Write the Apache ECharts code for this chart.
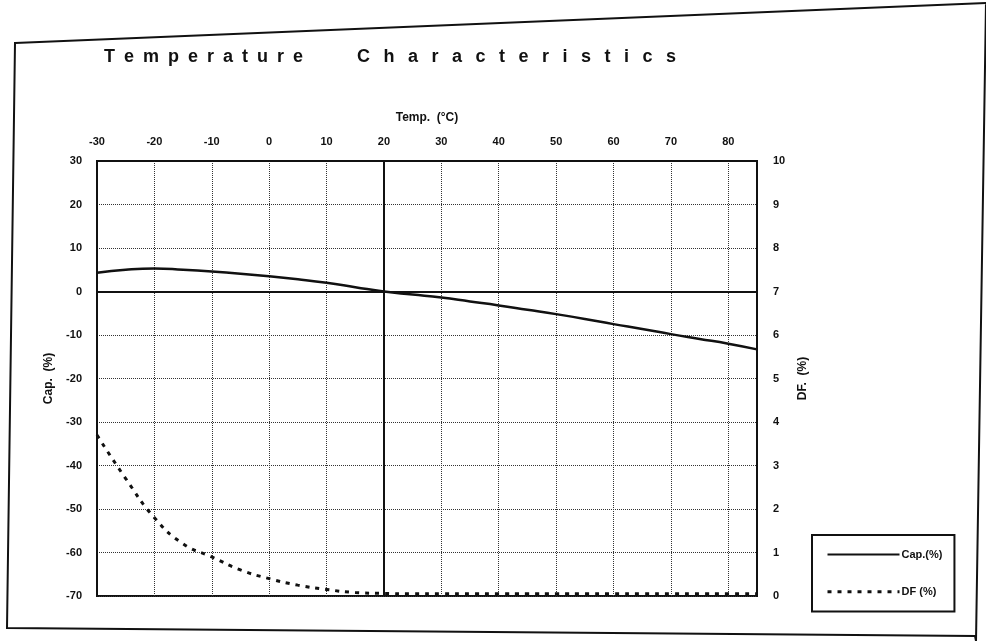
<!DOCTYPE html>
<html>
<head>
<meta charset="utf-8">
<script src="https://cdn.jsdelivr.net/npm/echarts@6/dist/echarts.min.js"></script>
<style>
html,body{margin:0;padding:0;background:#fff;}
#chart{width:986px;height:641px;}
</style>
</head>
<body>
<div id="chart"></div>
<script>
// Temperature (°C)
var temps = [-30, -25, -20, -15, -10, -5, 0, 5, 10, 15, 20, 25, 30, 35, 40, 45, 50, 55, 60, 65, 70, 75, 80, 85];
// Capacitance change (%)
var capValues = [4.3, 5.0, 5.3, 5.0, 4.6, 4.1, 3.5, 2.8, 2.0, 1.0, 0.0, -0.7, -1.4, -2.3, -3.2, -4.2, -5.2, -6.3, -7.5, -8.6, -9.8, -10.9, -12.0, -13.3];
// Dissipation factor (%)
var dfValues = [3.7, 2.7, 1.8, 1.2, 0.9, 0.6, 0.4, 0.25, 0.15, 0.08, 0.06, 0.05, 0.05, 0.05, 0.05, 0.05, 0.05, 0.05, 0.05, 0.05, 0.05, 0.05, 0.05, 0.05];
var titleText = 'Temperature Characteristics';
var xName = 'Temp.  (°C)';
var yLeftName = 'Cap.  (%)';
var yRightName = 'DF.  (%)';
var capName = 'Cap.(%)';
var dfName = 'DF (%)';

function pairs(xs, ys) { return xs.map(function (x, i) { return [x, ys[i]]; }); }
function spaced(s) {
  var words = s.split(' ');
  var a = words[0].split('').join('\u2002');
  var b = words[1].split('').join('\u2002\u2005');
  return a + '\u2003\u2003\u2003' + b;
}

var chart = echarts.init(document.getElementById('chart'), null, {renderer: 'canvas'});
var fontFam = '"Liberation Sans", Arial, sans-serif';
var gridLine = {show: true, lineStyle: {type: 'dotted', color: '#333', width: 1}};

chart.setOption({
  backgroundColor: '#fff',
  animation: false,
  title: {
    text: spaced(titleText),
    left: 99, top: 43,
    textStyle: {fontFamily: fontFam, fontWeight: 'bold', fontSize: 18, color: '#111'}
  },
  graphic: [{
    type: 'polygon',
    shape: {points: [[15, 43], [986, 3], [976, 641], [975, 636], [7, 628]]},
    style: {fill: 'none', stroke: '#111', lineWidth: 2},
    silent: true, z: -1
  }],
  legend: {
    orient: 'vertical',
    left: 812, top: 535,
    padding: [14, 12, 14, 14],
    itemGap: 26,
    itemWidth: 72, itemHeight: 14,
    borderColor: '#111', borderWidth: 2,
    backgroundColor: '#fff',
    textStyle: {fontFamily: fontFam, fontWeight: 'bold', fontSize: 11, color: '#111', padding: [0, 0, 0, -3]},
    data: [
      {name: capName, itemStyle: {opacity: 0}, lineStyle: {color: '#111', width: 2, type: 'solid'}},
      {name: dfName, itemStyle: {opacity: 0}, lineStyle: {color: '#111', width: 3, type: [4, 6]}}
    ]
  },
  grid: {left: 97, right: 229, top: 161, bottom: 45, show: true, borderColor: '#111', borderWidth: 2, backgroundColor: 'transparent'},
  xAxis: {
    type: 'value', position: 'top', min: -30, max: 85, interval: 10,
    name: xName, nameLocation: 'middle', nameGap: 37,
    nameTextStyle: {fontFamily: fontFam, fontWeight: 'bold', fontSize: 12, color: '#111'},
    axisLine: {show: true, onZero: false, lineStyle: {color: '#111', width: 2}},
    axisTick: {show: false},
    axisLabel: {showMaxLabel: false, margin: 14, fontFamily: fontFam, fontWeight: 'bold', fontSize: 11, color: '#111'},
    splitLine: gridLine
  },
  yAxis: [{
    type: 'value', position: 'left', min: -70, max: 30, interval: 10,
    name: yLeftName, nameLocation: 'middle', nameGap: 42, nameRotate: 90,
    nameTextStyle: {fontFamily: fontFam, fontWeight: 'bold', fontSize: 12, color: '#111'},
    axisLine: {show: true, onZero: false, lineStyle: {color: '#111', width: 2}},
    axisTick: {show: false},
    axisLabel: {margin: 15, fontFamily: fontFam, fontWeight: 'bold', fontSize: 11, color: '#111'},
    splitLine: gridLine
  }, {
    type: 'value', position: 'right', min: 0, max: 10, interval: 1,
    name: yRightName, nameLocation: 'middle', nameGap: 40, nameRotate: 90,
    nameTextStyle: {fontFamily: fontFam, fontWeight: 'bold', fontSize: 12, color: '#111'},
    axisLine: {show: true, onZero: false, lineStyle: {color: '#111', width: 2}},
    axisTick: {show: false},
    axisLabel: {margin: 16, fontFamily: fontFam, fontWeight: 'bold', fontSize: 11, color: '#111'},
    splitLine: {show: false}
  }],
  series: [{
    name: capName, type: 'line', yAxisIndex: 0, smooth: true,
    showSymbol: false, symbol: 'none',
    data: pairs(temps, capValues),
    lineStyle: {color: '#111', width: 2.5},
    itemStyle: {color: '#111'},
    markLine: {
      silent: true, symbol: 'none', label: {show: false},
      lineStyle: {color: '#111', width: 2, type: 'solid'},
      data: [{yAxis: 0}, {xAxis: 20}]
    }
  }, {
    name: dfName, type: 'line', yAxisIndex: 1, smooth: true,
    showSymbol: false, symbol: 'none',
    data: pairs(temps, dfValues),
    lineStyle: {color: '#111', width: 3, type: [4, 6]},
    itemStyle: {color: '#111'}
  }]
});
</script>
</body>
</html>
